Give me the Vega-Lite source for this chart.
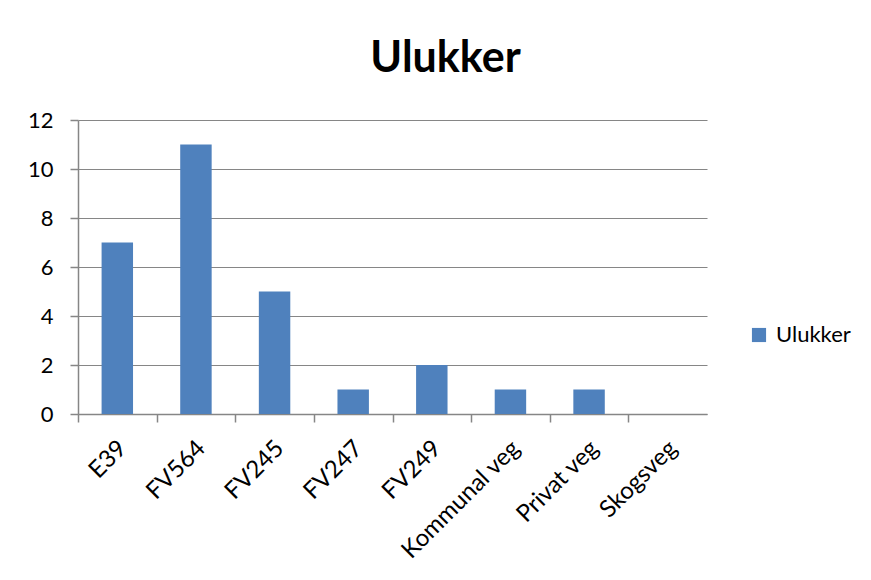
{
  "$schema": "https://vega.github.io/schema/vega-lite/v6.json",
  "autosize": "none",
  "width": 629,
  "height": 294,
  "padding": {"left": 78, "top": 120, "right": 164, "bottom": 166},
  "background": "white",
  "title": {
    "text": "Ulukker",
    "font": "Lato",
    "fontSize": 43,
    "fontWeight": "bold",
    "color": "#000000",
    "anchor": "middle",
    "frame": "group",
    "dx": 53,
    "offset": 28
  },
  "data": {
    "values": [
      {"veg": "E39", "antall": 7, "serie": "Ulukker"},
      {"veg": "FV564", "antall": 11, "serie": "Ulukker"},
      {"veg": "FV245", "antall": 5, "serie": "Ulukker"},
      {"veg": "FV247", "antall": 1, "serie": "Ulukker"},
      {"veg": "FV249", "antall": 2, "serie": "Ulukker"},
      {"veg": "Kommunal veg", "antall": 1, "serie": "Ulukker"},
      {"veg": "Privat veg", "antall": 1, "serie": "Ulukker"},
      {"veg": "Skogsveg", "antall": 0, "serie": "Ulukker"}
    ]
  },
  "mark": {"type": "bar", "stroke": null},
  "encoding": {
    "x": {
      "field": "veg",
      "type": "nominal",
      "sort": null,
      "scale": {"paddingInner": 0.6, "paddingOuter": 0.3},
      "axis": {
        "title": null,
        "labelAngle": -45,
        "labelFont": "Lato",
        "labelFontSize": 24,
        "labelColor": "#000000",
        "labelPadding": 14,
        "tickOffset": -39.3,
        "labelOffset": 36,
        "tickSize": 8,
        "tickColor": "#868686",
        "domainColor": "#868686",
        "domainWidth": 1.5,
        "tickWidth": 1.5,
        "grid": false
      }
    },
    "y": {
      "field": "antall",
      "type": "quantitative",
      "scale": {"domain": [0, 12], "nice": false},
      "axis": {
        "title": null,
        "values": [0, 2, 4, 6, 8, 10, 12],
        "labelFont": "Lato",
        "labelFontSize": 22,
        "labelColor": "#000000",
        "labelPadding": 17,
        "tickSize": 8,
        "tickColor": "#868686",
        "domainColor": "#868686",
        "gridColor": "#868686",
        "gridOpacity": 1,
        "domainWidth": 1.5,
        "tickWidth": 1.5,
        "gridWidth": 1.2,
        "grid": true
      }
    },
    "color": {
      "field": "serie",
      "type": "nominal",
      "scale": {"range": ["#4F81BD"]},
      "legend": {
        "title": null,
        "orient": "none",
        "legendX": 670,
        "legendY": 204,
        "symbolType": "square",
        "symbolSize": 200,
        "symbolStrokeWidth": 0,
        "labelFont": "Lato",
        "labelFontSize": 22,
        "labelColor": "#000000",
        "labelOffset": 6
      }
    }
  },
  "config": {
    "view": {"stroke": null}
  }
}
